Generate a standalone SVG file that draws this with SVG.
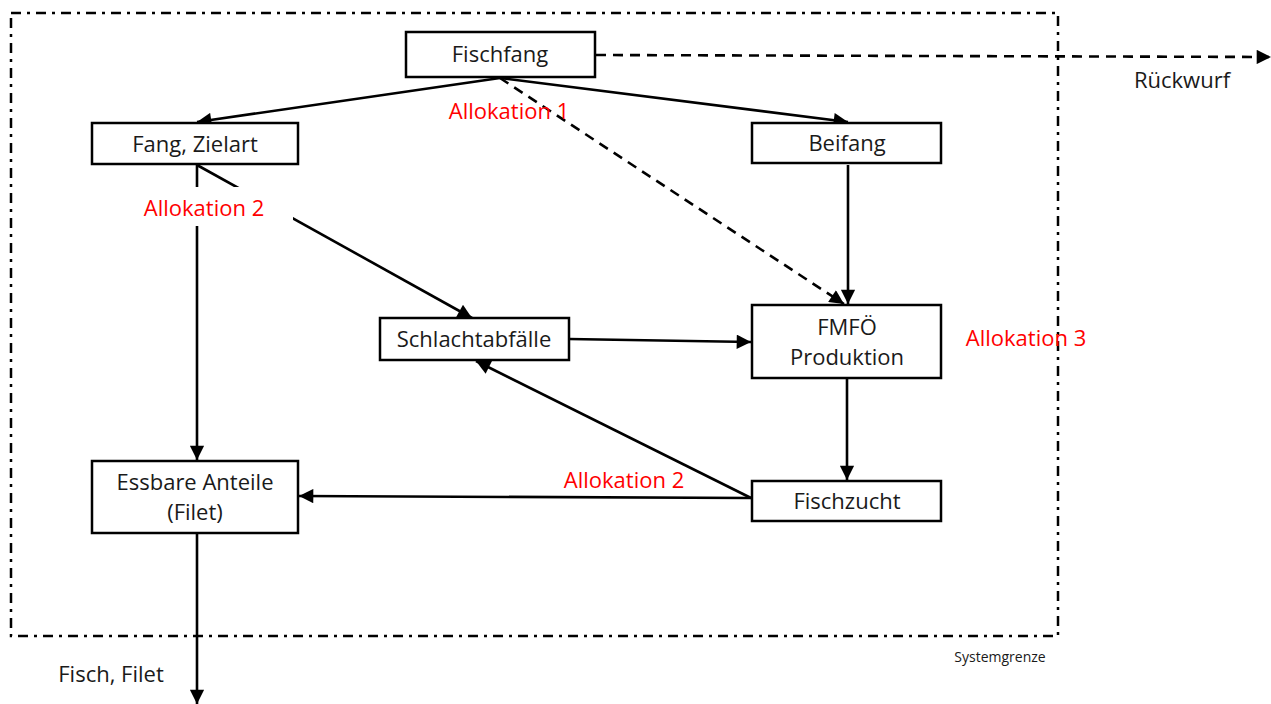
<svg xmlns="http://www.w3.org/2000/svg" width="1271" height="704" viewBox="0 0 1271 704">
<style>
.box{fill:#fff;stroke:#000;stroke-width:2.5}
.t{font-family:"Open Sans","Noto Sans",sans-serif;font-size:22px;fill:#1a1a1a;text-anchor:middle}
.r{font-family:"Open Sans","Noto Sans",sans-serif;font-size:22px;fill:#ff0000;text-anchor:middle}
.c{stroke:#000;stroke-width:2.6;fill:none}
.d{stroke-dasharray:10 7}
</style>
<defs>
<marker id="a" viewBox="0 0 10 10" refX="10" refY="5" markerWidth="6" markerHeight="5.5" markerUnits="strokeWidth" orient="auto"><path d="M0,0L10,5L0,10z" fill="#000"/></marker>
</defs>
<rect x="11" y="13" width="1047" height="623" fill="none" stroke="#000" stroke-width="2.5" stroke-dasharray="10 6 3 6"/>
<g id="connectors">
<line class="c" x1="500" y1="78" x2="197" y2="122" marker-end="url(#a)"/>
<line class="c" x1="500" y1="78" x2="848" y2="122" marker-end="url(#a)"/>
<line class="c d" x1="500" y1="78" x2="844" y2="304" marker-end="url(#a)"/>
<line class="c d" x1="596" y1="55" x2="1271" y2="57" marker-end="url(#a)"/>
<line class="c" x1="197" y1="165" x2="197" y2="460" marker-end="url(#a)"/>
<line class="c" x1="197" y1="165" x2="472" y2="318" marker-end="url(#a)"/>
<line class="c" x1="848" y1="165" x2="848" y2="304" marker-end="url(#a)"/>
<line class="c" x1="569" y1="339" x2="751" y2="342" marker-end="url(#a)"/>
<line class="c" x1="847" y1="378" x2="847" y2="480" marker-end="url(#a)"/>
<line class="c" x1="751" y1="498" x2="299" y2="496" marker-end="url(#a)"/>
<line class="c" x1="751" y1="498" x2="476" y2="361" marker-end="url(#a)"/>
<line class="c" x1="197" y1="534" x2="197" y2="704" marker-end="url(#a)"/>
</g>
<g id="fischfang"><rect class="box" x="406" y="32" width="189" height="45"/><text class="t" x="500" y="62">Fischfang</text></g>
<g id="fang-zielart"><rect class="box" x="92" y="123" width="206" height="41"/><text class="t" x="195" y="152">Fang, Zielart</text></g>
<g id="beifang"><rect class="box" x="752" y="123" width="189" height="40"/><text class="t" x="847" y="151">Beifang</text></g>
<g id="schlachtabfaelle"><rect class="box" x="380" y="318" width="189" height="42"/><text class="t" x="474" y="347">Schlachtabfälle</text></g>
<g id="fmfoe"><rect class="box" x="752" y="305" width="189" height="73"/><text class="t" x="847" y="335">FMFÖ</text><text class="t" x="847" y="365">Produktion</text></g>
<g id="essbare"><rect class="box" x="92" y="461" width="206" height="72"/><text class="t" x="195" y="490">Essbare Anteile</text><text class="t" x="195" y="520">(Filet)</text></g>
<g id="fischzucht"><rect class="box" x="752" y="481" width="189" height="40"/><text class="t" x="847" y="509">Fischzucht</text></g>
<g id="labels">
<text class="r" x="509" y="119">Allokation 1</text>
<rect x="134" y="187" width="159" height="39" fill="#fff"/>
<text class="r" x="204" y="216">Allokation 2</text>
<text class="r" x="1026" y="346">Allokation 3</text>
<text class="r" x="624" y="488">Allokation 2</text>
<text class="t" x="1182" y="88">Rückwurf</text>
<text class="t" x="111" y="682">Fisch, Filet</text>
<text class="t" x="1000" y="662" style="font-size:14px">Systemgrenze</text>
</g>
</svg>
